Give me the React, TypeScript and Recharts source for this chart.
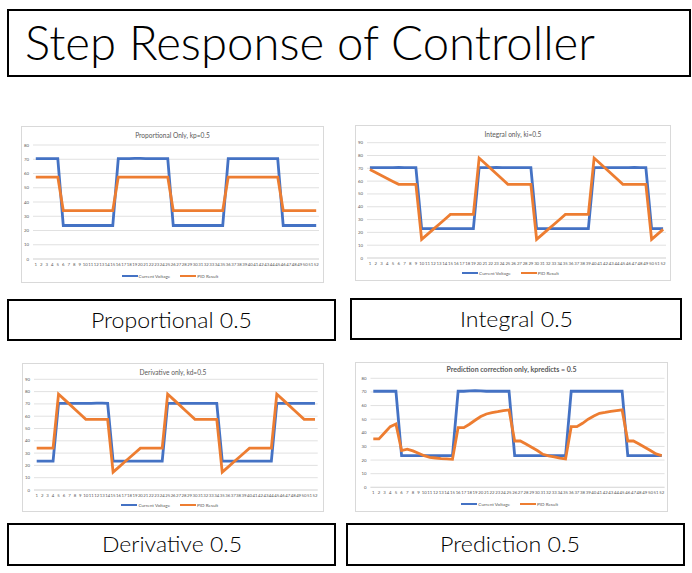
import { LineChart, Line, XAxis, YAxis, CartesianGrid, Legend } from "recharts";

const categories = Array.from({ length: 52 }, (_, i) => i + 1);

// Proportional only
const propVoltage = [
  70.5, 70.5, 70.5, 70.5, 70.5, 23.5, 23.5, 23.5, 23.5, 23.5, 23.5, 23.5, 23.5,
  23.5, 23.5, 70.5, 70.5, 70.5, 70.6, 70.6, 70.5, 70.5, 70.5, 70.5, 70.5, 23.5,
  23.5, 23.5, 23.5, 23.5, 23.5, 23.5, 23.5, 23.5, 23.5, 70.5, 70.5, 70.5, 70.5,
  70.5, 70.5, 70.5, 70.5, 70.5, 70.5, 23.5, 23.5, 23.5, 23.5, 23.5, 23.5, 23.5,
];
const propResult = [
  57.5, 57.5, 57.5, 57.5, 57.5, 34, 34, 34, 34, 34, 34, 34, 34, 34, 34, 57.5,
  57.5, 57.5, 57.5, 57.5, 57.5, 57.5, 57.5, 57.5, 57.5, 34, 34, 34, 34, 34, 34,
  34, 34, 34, 34, 57.5, 57.5, 57.5, 57.5, 57.5, 57.5, 57.5, 57.5, 57.5, 57.5, 34,
  34, 34, 34, 34, 34, 34,
];

// Integral only
const intVoltage = [
  70.5, 70.5, 70.5, 70.5, 70.5, 70.8, 70.5, 70.5, 70.5, 23, 23, 23, 23, 23, 23,
  23, 23, 23, 23, 70.5, 70.5, 70.5, 70.7, 70.5, 70.5, 70.5, 70.5, 70.5, 70.5, 23,
  23, 23, 23, 23, 23, 23, 23, 23, 23, 70.5, 70.5, 70.5, 70.5, 70.5, 70.5, 70.5,
  70.7, 70.5, 70.5, 23, 23, 23,
];
const intResult = [
  69, 66.7, 64.4, 62.1, 59.8, 57.5, 57.5, 57.5, 57.5, 14.5, 18.4, 22.3, 26.2,
  30.1, 34, 34, 34, 34, 34, 78, 73.9, 69.8, 65.7, 61.6, 57.5, 57.5, 57.5, 57.5,
  57.5, 14.5, 18.4, 22.3, 26.2, 30.1, 34, 34, 34, 34, 34, 78, 73.9, 69.8, 65.7,
  61.6, 57.5, 57.5, 57.5, 57.5, 57.5, 14.5, 18.4, 22.3,
];

// Derivative only
const derVoltage = [
  23.5, 23.5, 23.5, 23.5, 70.5, 70.5, 70.5, 70.5, 70.5, 70.5, 70.5, 70.7, 70.7,
  70.5, 23.5, 23.5, 23.5, 23.5, 23.5, 23.5, 23.5, 23.5, 23.5, 23.5, 70.5, 70.5,
  70.5, 70.5, 70.5, 70.5, 70.5, 70.5, 70.5, 70.5, 23.5, 23.5, 23.5, 23.5, 23.5,
  23.5, 23.5, 23.5, 23.5, 23.5, 70.5, 70.5, 70.5, 70.5, 70.5, 70.5, 70.5, 70.5,
];
const derResult = [
  34, 34, 34, 34, 78, 73.9, 69.8, 65.7, 61.6, 57.5, 57.5, 57.5, 57.5, 57.5, 14.5,
  18.4, 22.3, 26.2, 30.1, 34, 34, 34, 34, 34, 78, 73.9, 69.8, 65.7, 61.6, 57.5,
  57.5, 57.5, 57.5, 57.5, 14.5, 18.4, 22.3, 26.2, 30.1, 34, 34, 34, 34, 34, 78,
  73.9, 69.8, 65.7, 61.6, 57.5, 57.5, 57.5,
];

// Prediction correction only
const predVoltage = [
  70.5, 70.5, 70.5, 70.5, 70.5, 23.2, 23.2, 23.2, 23.2, 23.2, 23.2, 23.2, 23.2,
  23.2, 23.2, 70.5, 70.5, 70.8, 71, 70.8, 70.5, 70.5, 70.5, 70.5, 70.5, 23.2,
  23.2, 23.2, 23.2, 23.2, 23.2, 23.2, 23.2, 23.2, 23.2, 70.5, 70.5, 70.5, 70.5,
  70.5, 70.5, 70.5, 70.5, 70.5, 70.5, 23.2, 23.2, 23.2, 23.2, 23.2, 23.2, 23.2,
];
const predResult = [
  35.5, 35.5, 40, 44.5, 46.5, 27, 28, 26.7, 25, 23.2, 22, 21.5, 21, 20.8, 20.5,
  43.8, 43.8, 46.3, 49.2, 51.9, 53.8, 54.8, 55.5, 56.3, 56.8, 34, 34, 31.8, 29.4,
  27, 24.2, 23, 22.3, 21.5, 20.8, 44.5, 44.5, 47, 50, 52.3, 54.3, 55, 55.8, 56.3,
  56.8, 34, 34, 31.8, 29.4, 27, 24.5, 23.3,
];

const ticks80 = [0, 10, 20, 30, 40, 50, 60, 70, 80];
const ticks90 = [0, 10, 20, 30, 40, 50, 60, 70, 80, 90];

const BLUE = "#4472C4";
const ORANGE = "#ED7D31";
const GRID = "#d9d9d9";
const TEXT = "#595959";

const toRows = (a: number[], b: number[]) =>
  categories.map((c, i) => ({ x: c, cv: a[i], pid: b[i] }));

const LegendContent = (props: any) => {
  const payload = props.payload || [];
  return (
    <div
      style={{
        display: "flex",
        justifyContent: "center",
        alignItems: "center",
        gap: 10,
        height: 10,
        fontFamily: "Lato, sans-serif",
        fontSize: 4.6,
        color: TEXT,
      }}
    >
      {payload.map((p: any) => (
        <div key={p.value} style={{ display: "flex", alignItems: "center", gap: 1 }}>
          <div style={{ width: 16, height: 2.5, background: p.color }} />
          <span>{p.value}</span>
        </div>
      ))}
    </div>
  );
};

type Panel = {
  title: string;
  bold?: boolean;
  left: number;
  top: number;
  width: number;
  height: number;
  margin: { top: number; right: number; left: number; bottom: number };
  yWidth: number;
  xHeight: number;
  pad: number;
  ticks: number[];
  rows: { x: number; cv: number; pid: number }[];
};

const panels: Panel[] = [
  {
    title: "Proportional Only, kp=0.5",
    left: 21, top: 126, width: 303, height: 157,
    margin: { top: 19, right: 5, left: 0, bottom: 2 },
    yWidth: 12, xHeight: 12, pad: 2.8,
    ticks: ticks80,
    rows: toRows(propVoltage, propResult),
  },
  {
    title: "Integral only, ki=0.5",
    left: 355, top: 125, width: 316, height: 156,
    margin: { top: 17.7, right: 5, left: 0, bottom: 3 },
    yWidth: 12, xHeight: 10, pad: 2.9,
    ticks: ticks90,
    rows: toRows(intVoltage, intResult),
  },
  {
    title: "Derivative only, kd=0.5",
    left: 22, top: 363, width: 302, height: 149,
    margin: { top: 16.3, right: 6.3, left: 0, bottom: 2 },
    yWidth: 12, xHeight: 10, pad: 2.7,
    ticks: ticks90,
    rows: toRows(derVoltage, derResult),
  },
  {
    title: "Prediction correction only, kpredicts = 0.5",
    bold: true,
    left: 355, top: 362, width: 313, height: 150,
    margin: { top: 16.3, right: 3.5, left: 0, bottom: 3 },
    yWidth: 15.5, xHeight: 11.7, pad: 2.8,
    ticks: ticks80,
    rows: toRows(predVoltage, predResult),
  },
];

const ChartPanel = ({ p }: { p: Panel }) => (
  <div
    style={{
      position: "absolute",
      left: p.left,
      top: p.top,
      width: p.width,
      height: p.height,
      background: "#fff",
      outline: `1px solid ${GRID}`,
      outlineOffset: -1,
    }}
  >
    <div
      style={{
        position: "absolute",
        left: 0,
        top: p.bold ? 3 : 5,
        width: p.width,
        textAlign: "center",
        fontFamily: "Lato, sans-serif",
        fontSize: p.bold ? 7 : 6.6,
        fontWeight: p.bold ? 700 : 400,
        color: TEXT,
        lineHeight: "9px",
      }}
    >
      {p.title}
    </div>
    <LineChart width={p.width} height={p.height} data={p.rows} margin={p.margin}>
      <CartesianGrid vertical={false} stroke={GRID} strokeWidth={0.8} />
      <XAxis
        dataKey="x"
        interval={0}
        height={p.xHeight}
        padding={{ left: p.pad, right: p.pad }}
        tickLine={false}
        tickSize={0}
        tickMargin={3.5}
        axisLine={{ stroke: GRID, strokeWidth: 0.8 }}
        tick={{ fontSize: 4.3, fill: TEXT, fontFamily: "Lato, sans-serif" }}
      />
      <YAxis
        width={p.yWidth}
        domain={[0, p.ticks[p.ticks.length - 1]]}
        ticks={p.ticks}
        interval={0}
        tickLine={false}
        tickSize={0}
        tickMargin={4}
        axisLine={false}
        tick={{ fontSize: 4.3, fill: TEXT, fontFamily: "Lato, sans-serif" }}
      />
      <Legend verticalAlign="bottom" height={10} content={<LegendContent />} />
      <Line
        type="linear"
        dataKey="cv"
        name="Current Voltage"
        stroke={BLUE}
        strokeWidth={2.8}
        dot={false}
        isAnimationActive={false}
      />
      <Line
        type="linear"
        dataKey="pid"
        name="PID Result"
        stroke={ORANGE}
        strokeWidth={2.8}
        dot={false}
        isAnimationActive={false}
      />
    </LineChart>
  </div>
);

const captions = [
  { text: "Proportional 0.5", x: 8, y: 300, w: 327, h: 40, tx: 91, tw: 161, base: 328 },
  { text: "Integral 0.5", x: 351, y: 299, w: 330, h: 40, tx: 460, tw: 113, base: 327 },
  { text: "Derivative 0.5", x: 8, y: 524, w: 327, h: 41, tx: 102, tw: 140, base: 552 },
  { text: "Prediction 0.5", x: 347, y: 524, w: 337, h: 41, tx: 440, tw: 140, base: 552 },
];

export default function App() {
  return (
    <div
      style={{
        position: "absolute",
        left: 0,
        top: 0,
        width: 692,
        height: 573,
        background: "#fff",
        overflow: "hidden",
      }}
    >
      <svg
        width={692}
        height={573}
        style={{ position: "absolute", left: 0, top: 0 }}
      >
        <rect x={8} y={10} width={682} height={66} fill="none" stroke="#000" strokeWidth={2} />
        <text
          x={25}
          y={60}
          textLength={570}
          lengthAdjust="spacingAndGlyphs"
          fontFamily="Lato, sans-serif"
          fontWeight={300}
          fontSize={47}
          fill="#000"
        >
          Step Response of Controller
        </text>
        {captions.map((c) => (
          <g key={c.text}>
            <rect x={c.x} y={c.y} width={c.w} height={c.h} fill="none" stroke="#000" strokeWidth={2} />
            <text
              x={c.tx}
              y={c.base}
              textLength={c.tw}
              lengthAdjust="spacingAndGlyphs"
              fontFamily="Lato, sans-serif"
              fontWeight={300}
              fontSize={21}
              fill="#000"
            >
              {c.text}
            </text>
          </g>
        ))}
      </svg>
      {panels.map((p) => (
        <ChartPanel key={p.title} p={p} />
      ))}
    </div>
  );
}
